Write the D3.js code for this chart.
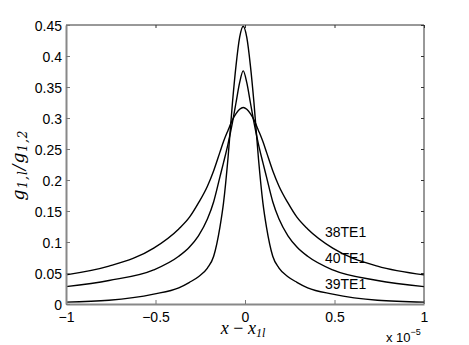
<!DOCTYPE html>
<html>
<head>
<meta charset="utf-8">
<script src="https://cdn.jsdelivr.net/npm/d3@7"></script>
<style>
  html, body { margin: 0; padding: 0; background: #fff; }
  svg { display: block; }
  .tick text { font-family: "Liberation Sans", Arial, sans-serif; font-size: 14px; fill: #000; }
</style>
</head>
<body>
<div id="chart"></div>
<script>
// x in units of 1e-5
var xs = [-1, -0.76, -0.51, -0.37, -0.31, -0.26, -0.21, -0.175, -0.14, -0.12, -0.095, -0.07, -0.05, -0.03, -0.01,
          0.01, 0.03, 0.05, 0.075, 0.10, 0.12, 0.155, 0.19, 0.24, 0.29, 0.35, 0.49, 0.74, 1];

var te38 = [0.047, 0.061, 0.090, 0.121, 0.140, 0.163, 0.190, 0.215, 0.245, 0.262, 0.280, 0.297, 0.307, 0.314, 0.317,
            0.314, 0.307, 0.297, 0.280, 0.262, 0.245, 0.215, 0.190, 0.163, 0.140, 0.121, 0.090, 0.061, 0.047];
var te40 = [0.028, 0.038, 0.055, 0.077, 0.092, 0.110, 0.137, 0.165, 0.205, 0.228, 0.258, 0.293, 0.325, 0.357, 0.376,
            0.357, 0.325, 0.293, 0.258, 0.228, 0.205, 0.165, 0.137, 0.110, 0.092, 0.077, 0.055, 0.038, 0.028];
var te39 = [0.003, 0.006, 0.016, 0.026, 0.035, 0.044, 0.058, 0.077, 0.124, 0.163, 0.235, 0.325, 0.385, 0.430, 0.448,
            0.430, 0.385, 0.325, 0.235, 0.163, 0.124, 0.077, 0.058, 0.044, 0.035, 0.026, 0.016, 0.006, 0.003];

var seriesNames = ["38TE1", "40TE1", "39TE1"];
var labelX = [0.447, 0.447, 0.447];
var labelY = [0.108, 0.066, 0.024];

var xTicks = [-1, -0.5, 0, 0.5, 1];
var xTickLabels = ["\u22121", "\u22120.5", "0", "0.5", "1"];
var yTicks = [0, 0.05, 0.1, 0.15, 0.2, 0.25, 0.3, 0.35, 0.4, 0.45];
var yTickLabels = ["0", "0.05", "0.1", "0.15", "0.2", "0.25", "0.3", "0.35", "0.4", "0.45"];

var width = 469, height = 345;
var mLeft = 66, mRight = 424, mTop = 25, mBottom = 304;

var x = d3.scaleLinear().domain([-1, 1]).range([mLeft, mRight]);
var y = d3.scaleLinear().domain([0, 0.45]).range([mBottom, mTop]);

var svg = d3.select('#chart')
  .append('svg')
  .attr('width', width)
  .attr('height', height);

// curves
var line = d3.line()
  .x(function(d) { return x(d[0]); })
  .y(function(d) { return y(d[1]); })
  .curve(d3.curveMonotoneX);

[te38, te40, te39].forEach(function(vals) {
  svg.append('path')
    .datum(xs.map(function(v, i) { return [v, vals[i]]; }))
    .attr('fill', 'none')
    .attr('stroke', '#000')
    .attr('stroke-width', 1.4)
    .attr('d', line);
});

// box: top & right
svg.append('line').attr('x1', mLeft).attr('x2', mRight).attr('y1', mTop).attr('y2', mTop)
  .attr('stroke', '#333').attr('stroke-width', 1);
svg.append('line').attr('x1', mRight).attr('x2', mRight).attr('y1', mTop).attr('y2', mBottom)
  .attr('stroke', '#333').attr('stroke-width', 1);

// inner ticks on top/right
svg.append('g').attr('transform', 'translate(0,' + mTop + ')')
  .call(d3.axisBottom(x).tickValues(xTicks).tickSize(3).tickFormat(''))
  .call(function(g) { g.select('.domain').remove(); g.selectAll('line').attr('stroke', '#333'); });
svg.append('g').attr('transform', 'translate(' + mRight + ',0)')
  .call(d3.axisLeft(y).tickValues(yTicks).tickSize(3).tickFormat(''))
  .call(function(g) { g.select('.domain').remove(); g.selectAll('line').attr('stroke', '#333'); });

// bottom axis
var xAxis = svg.append('g').attr('transform', 'translate(0,' + mBottom + ')')
  .call(d3.axisTop(x).tickValues(xTicks).tickSize(4).tickSizeOuter(0).tickFormat(''));
xAxis.select('.domain').attr('stroke', '#888').attr('stroke-width', 2);
xAxis.selectAll('line').attr('stroke', '#777');
xAxis.selectAll('.tick').append('text')
  .attr('y', 18)
  .attr('text-anchor', 'middle')
  .text(function(d, i) { return xTickLabels[i]; });

// left axis
var yAxis = svg.append('g').attr('transform', 'translate(' + mLeft + ',0)')
  .call(d3.axisRight(y).tickValues(yTicks).tickSize(4).tickSizeOuter(0).tickFormat(''));
yAxis.select('.domain').attr('stroke', '#888').attr('stroke-width', 2);
yAxis.selectAll('line').attr('stroke', '#777');
yAxis.selectAll('.tick').append('text')
  .attr('x', -4)
  .attr('dy', '0.36em')
  .attr('text-anchor', 'end')
  .text(function(d, i) { return yTickLabels[i]; });

// series labels
seriesNames.forEach(function(name, i) {
  svg.append('text')
    .attr('x', x(labelX[i]))
    .attr('y', y(labelY[i]))
    .attr('font-family', '"Liberation Sans", Arial, sans-serif')
    .attr('font-size', 14)
    .text(name);
});

// exponent
var ex = svg.append('text')
  .attr('x', 386)
  .attr('y', 342)
  .attr('font-family', '"Liberation Sans", Arial, sans-serif')
  .attr('font-size', 13);
ex.append('tspan').text('x 10');
ex.append('tspan').attr('dy', -7).attr('font-size', 9).text('\u22125');

// x label
var xl = svg.append('text')
  .attr('x', 243)
  .attr('y', 334)
  .attr('text-anchor', 'middle')
  .attr('font-family', '"Liberation Serif", "DejaVu Serif", serif')
  .attr('font-style', 'italic')
  .attr('font-size', 18);
xl.append('tspan').text('x');
xl.append('tspan').attr('font-style', 'normal').text(' \u2212 ');
xl.append('tspan').text('x');
xl.append('tspan').attr('dy', 3).attr('font-size', 12).text('1l');

// y label
var yl = svg.append('text')
  .attr('transform', 'translate(24,165) rotate(-90)')
  .attr('text-anchor', 'middle')
  .attr('font-family', '"DejaVu Serif", "Liberation Serif", serif')
  .attr('font-style', 'italic')
  .attr('font-size', 17)
  .attr('letter-spacing', 1);
yl.append('tspan').text('g');
yl.append('tspan').attr('dy', 3).attr('font-size', 12).text('1,l');
yl.append('tspan').attr('dy', -3).text('/g');
yl.append('tspan').attr('dy', 3).attr('font-size', 12).text('1,2');
</script>
</body>
</html>
